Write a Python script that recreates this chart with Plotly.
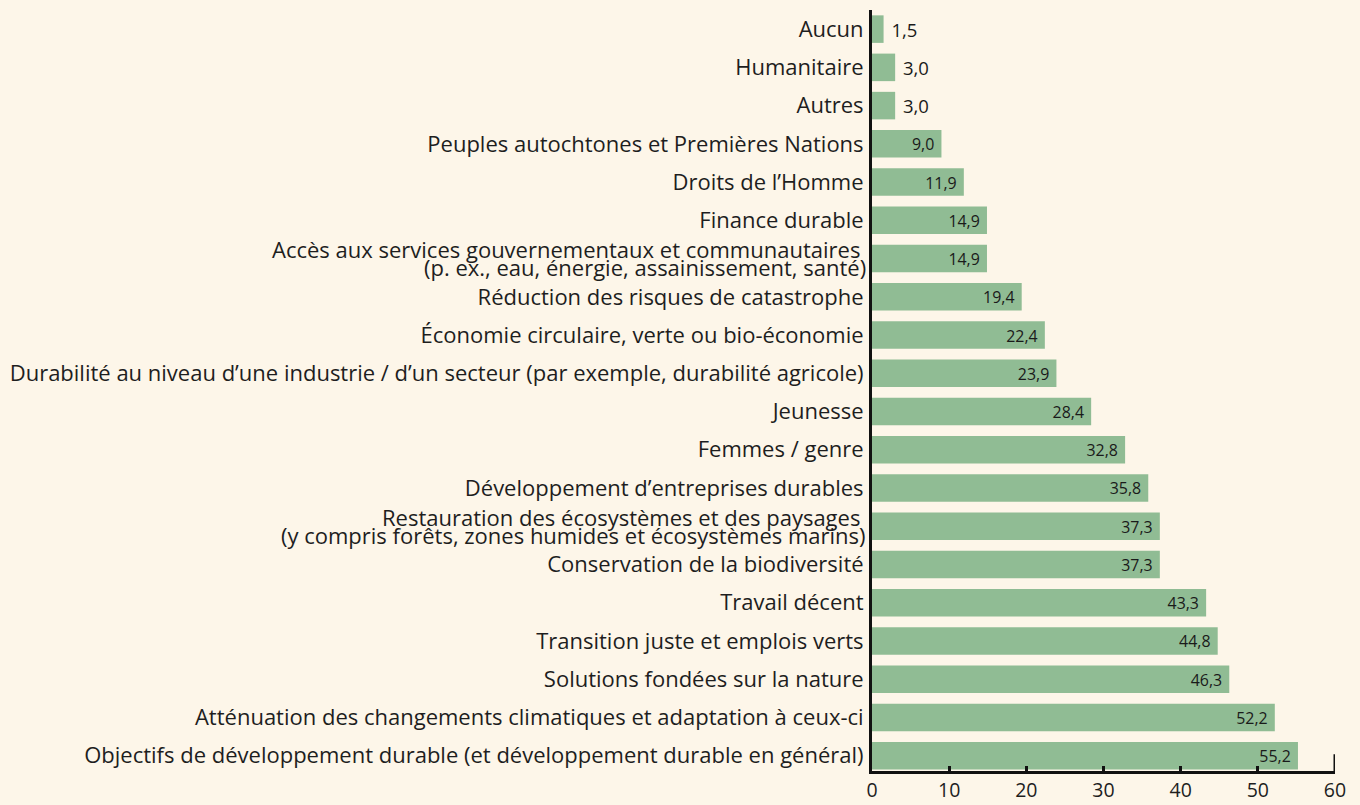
import plotly.graph_objects as go

categories = [
    "Objectifs de développement durable (et développement durable en général)",
    "Atténuation des changements climatiques et adaptation à ceux-ci",
    "Solutions fondées sur la nature",
    "Transition juste et emplois verts",
    "Travail décent",
    "Conservation de la biodiversité",
    "Restauration des écosystèmes et des paysages <br>(y compris forêts, zones humides et écosystèmes marins)",
    "Développement d’entreprises durables",
    "Femmes / genre",
    "Jeunesse",
    "Durabilité au niveau d’une industrie / d’un secteur (par exemple, durabilité agricole)",
    "Économie circulaire, verte ou bio-économie",
    "Réduction des risques de catastrophe",
    "Accès aux services gouvernementaux et communautaires <br>(p. ex., eau, énergie, assainissement, santé)",
    "Finance durable",
    "Droits de l’Homme",
    "Peuples autochtones et Premières Nations",
    "Autres",
    "Humanitaire",
    "Aucun",
]
values = [55.2, 52.2, 46.3, 44.8, 43.3, 37.3, 37.3, 35.8, 32.8, 28.4,
          23.9, 22.4, 19.4, 14.9, 14.9, 11.9, 9.0, 3.0, 3.0, 1.5]
value_labels = ["\u00a0" + f"{v:.1f}".replace(".", ",") + "\u00a0" for v in values]
x_ticks = [0, 10, 20, 30, 40, 50, 60]

BG = "#fdf6e9"
BAR = "#90bc94"
LABEL_FONT = "Open Sans"
LABEL_SIZE = 22
LABEL_COLOR = "#1e1e1e"

# single-line labels go on the axis; two-line labels are drawn with tighter leading
tick_text = [c if "<br>" not in c else "" for c in categories]

fig = go.Figure()
fig.add_trace(go.Bar(
    y=categories,
    x=values,
    orientation="h",
    marker=dict(color=BAR, line=dict(width=0)),
    text=value_labels,
    textposition="auto",
    insidetextanchor="end",
    insidetextfont=dict(family="Open Sans", size=18.5, color="#1a1a1a"),
    outsidetextfont=dict(family="Open Sans", size=18.5, color="#1a1a1a"),
    textangle=0,
    cliponaxis=False,
    hoverinfo="skip",
))

for c in categories:
    if "<br>" in c:
        l1, l2 = c.split("<br>")
        for txt, shift in ((l1, 9.5), (l2, -8.5)):
            fig.add_annotation(
                xref="paper", yref="y", x=0, y=c, text=txt,
                xanchor="right", yanchor="middle", xshift=-4, yshift=shift,
                showarrow=False,
                font=dict(family=LABEL_FONT, size=LABEL_SIZE, color=LABEL_COLOR),
            )

fig.update_layout(
    width=1360, height=805,
    paper_bgcolor=BG, plot_bgcolor=BG,
    margin=dict(l=872, r=25, t=10, b=34, autoexpand=False),
    bargap=0.28,
    showlegend=False,
    xaxis=dict(
        range=[0, 60],
        tickvals=x_ticks,
        ticktext=[str(t) for t in x_ticks],
        showgrid=False, zeroline=False,
        showline=True, linecolor="#111", linewidth=3,
        ticks="inside", ticklen=5, tickwidth=3, tickcolor="#111",
        tickfont=dict(family=LABEL_FONT, size=19.5, color=LABEL_COLOR),
        ticklabelstandoff=0,
        automargin=False,
        fixedrange=True,
    ),
    yaxis=dict(
        categoryorder="array", categoryarray=categories,
        tickmode="array", tickvals=categories, ticktext=tick_text,
        range=[-0.4, 19.5],
        showgrid=False, zeroline=False,
        showline=True, linecolor="#111", linewidth=3,
        ticks="", layer="below traces",
        ticklabelstandoff=1,
        tickfont=dict(family=LABEL_FONT, size=LABEL_SIZE, color=LABEL_COLOR),
        automargin=False,
        fixedrange=True,
    ),
)

# taller end mark at 60
fig.add_shape(type="line", xref="x", yref="paper", x0=60, x1=60, y0=0, y1=0.022,
              line=dict(color="#111", width=3))

fig.write_html("out.html", config={"displayModeBar": False},
               post_script="document.body.style.margin='0';")
